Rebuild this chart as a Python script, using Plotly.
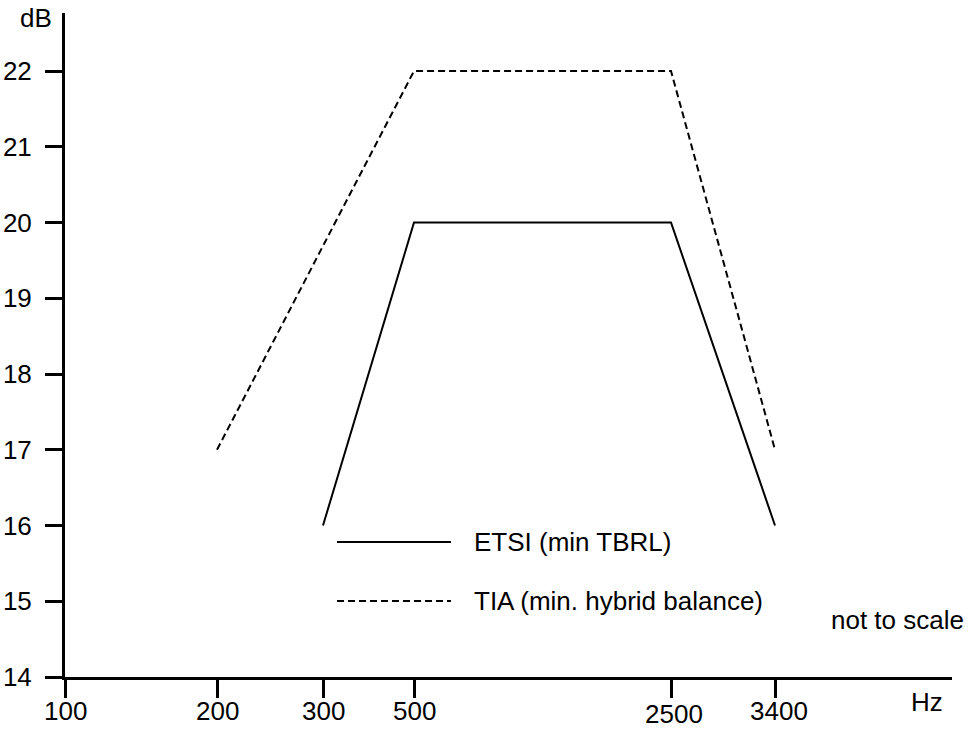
import plotly.graph_objects as go

# ---- data ----
freq_labels = ["100", "200", "300", "500", "2500", "3400"]
# display positions along the (not-to-scale) frequency axis
freq_positions = [0, 152, 258, 349, 606, 710]

etsi_freq = ["300", "500", "2500", "3400"]
etsi_db = [16, 20, 20, 16]

tia_freq = ["200", "500", "2500", "3400"]
tia_db = [17, 22, 22, 17]

y_ticks = [14, 15, 16, 17, 18, 19, 20, 21, 22]

pos = dict(zip(freq_labels, freq_positions))

W, H = 968, 729
L, R, T, B = 65, 16, 13, 52
PW, PH = W - L - R, H - T - B
FONT = "Liberation Sans, Arial, sans-serif"
FS = 26


def px(x):
    return (x - L) / PW


def py(y):
    return (H - B - y) / PH


fig = go.Figure()
fig.add_trace(go.Scatter(
    x=[pos[f] for f in etsi_freq], y=etsi_db, mode="lines",
    line=dict(color="black", width=2), name="ETSI (min TBRL)",
    showlegend=False, cliponaxis=False))
fig.add_trace(go.Scatter(
    x=[pos[f] for f in tia_freq], y=tia_db, mode="lines",
    line=dict(color="black", width=2, dash="7px,4px"),
    name="TIA (min. hybrid balance)", showlegend=False, cliponaxis=False))

shapes = [
    dict(type="line", xref="paper", yref="paper", x0=px(337), x1=px(451),
         y0=py(542), y1=py(542), line=dict(color="black", width=2)),
    dict(type="line", xref="paper", yref="paper", x0=px(337), x1=px(451),
         y0=py(601), y1=py(601), line=dict(color="black", width=2, dash="7px,4px")),
]

annotations = [
    dict(text="ETSI (min TBRL)", x=px(472), y=py(542), xanchor="left", yanchor="middle"),
    dict(text="TIA (min. hybrid balance)", x=px(472), y=py(601), xanchor="left", yanchor="middle"),
    dict(text="not to scale", x=px(897), y=py(620), xanchor="center", yanchor="middle"),
    dict(text="dB", x=px(36), y=py(18), xanchor="center", yanchor="middle"),
    dict(text="Hz", x=px(927), y=py(702), xanchor="center", yanchor="middle"),
]
for a in annotations:
    a.update(xref="paper", yref="paper")

# frequency tick labels (placed under each tick of the x axis)
label_yshift = {"2500": -3}
label_xshift = {"2500": 3, "3400": 4}
for lab, p in zip(freq_labels, freq_positions):
    annotations.append(dict(text=lab, x=p, xref="x", y=py(711), yref="paper",
                            xanchor="center", yanchor="middle",
                            xshift=label_xshift.get(lab, 0),
                            yshift=label_yshift.get(lab, 0)))

for a in annotations:
    a.update(showarrow=False, font=dict(family=FONT, size=FS, color="black"))

fig.update_layout(
    width=W, height=H,
    margin=dict(l=L, r=R, t=T, b=B, pad=0, autoexpand=False),
    paper_bgcolor="white", plot_bgcolor="white",
    font=dict(family=FONT, size=FS, color="black"),
    shapes=shapes, annotations=annotations,
    showlegend=False,
    xaxis=dict(range=[0, PW], tickmode="array", tickvals=freq_positions,
               showticklabels=False, showgrid=False, zeroline=False,
               showline=True, linecolor="black", linewidth=3,
               ticks="outside", ticklen=18, tickwidth=3, tickcolor="black",
               automargin=False, fixedrange=True),
    yaxis=dict(range=[14, 14 + PH / 75.75], tickmode="array", tickvals=y_ticks,
               showgrid=False, zeroline=False,
               showline=True, linecolor="black", linewidth=3,
               ticks="outside", ticklen=17, tickwidth=3, tickcolor="black",
               ticklabelstandoff=8, automargin=False, fixedrange=True),
)

fig.write_html("out.html", config={"displayModeBar": False})
